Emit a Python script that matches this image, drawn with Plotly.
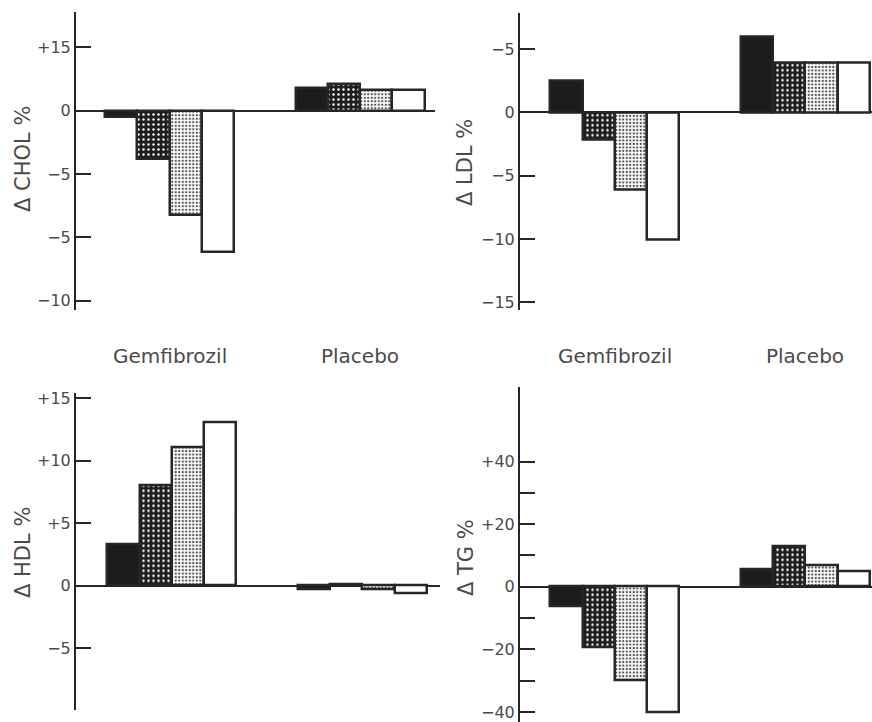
import plotly.graph_objects as go

W, H = 872, 722

# ---------------- data ----------------
groups = ["Gemfibrozil", "Placebo"]
series = ["Period 1", "Period 2", "Period 3", "Period 4"]

chol_gem = [-0.5, -3.8, -8.2, -11.2]
chol_pla = [1.8, 2.1, 1.6, 1.6]
ldl_gem = [2.5, -2.2, -6.1, -10.1]
ldl_pla = [6.0, 3.9, 3.9, 3.9]
hdl_gem = [3.3, 8.0, 11.1, 13.1]
hdl_pla = [-0.3, 0.1, -0.3, -0.6]
tg_gem = [-6.4, -19.5, -30.0, -40.0]
tg_pla = [5.6, 12.8, 6.9, 4.8]

chol_tickvals = [5, 0, -5, -10, -15]
chol_ticktext = ["+15", "0", "−5", "−5", "−10"]
ldl_tickvals = [5, 0, -5, -10, -15]
ldl_ticktext = ["−5", "0", "−5", "−10", "−15"]
hdl_tickvals = [15, 10, 5, 0, -5]
hdl_ticktext = ["+15", "+10", "+5", "0", "−5"]
tg_tickvals = [-40, -30, -20, -10, 0, 10, 20, 30, 40]
tg_ticktext = ["−40", "", "−20", "", "0", "", "+20", "", "+40"]

titles = ["Δ CHOL %", "Δ LDL %", "Δ HDL %", "Δ TG %"]

# ---------------- styling / geometry ----------------
LINE = "#262626"
TEXT = "#4a4a4a"
UNIT = 32.2          # px per bar
GROUP_OFFSET = 5.92  # placebo group start, in bar units


def fx(px):
    return px / W


def fy(py):
    return 1 - py / H


styles = [
    dict(color="#1c1c1c", pattern=None),
    dict(color="#1c1c1c", pattern=dict(shape=".", bgcolor="#1e1e1e", fgcolor="#ffffff",
                                        size=5, solidity=0.18, fillmode="replace")),
    dict(color="#ffffff", pattern=dict(shape=".", bgcolor="#ffffff", fgcolor="#505050",
                                        size=3.5, solidity=0.35, fillmode="replace")),
    dict(color="#ffffff", pattern=None),
]

# pixel geometry per panel
panels = [
    dict(gem=chol_gem, pla=chol_pla, tv=chol_tickvals, tt=chol_ticktext, title=titles[0],
         ax=76, rx=435, c0=121.3, ty=12, by=310, zy=110.7, ppu=12.66, tx=23, tcy=159),
    dict(gem=ldl_gem, pla=ldl_pla, tv=ldl_tickvals, tt=ldl_ticktext, title=titles[1],
         ax=520, rx=872, c0=566.5, ty=12.7, by=310, zy=112.3, ppu=12.66, tx=465, tcy=163),
    dict(gem=hdl_gem, pla=hdl_pla, tv=hdl_tickvals, tt=hdl_ticktext, title=titles[2],
         ax=76, rx=440, c0=123.5, ty=393.3, by=710, zy=585.7, ppu=12.5, tx=23, tcy=553),
    dict(gem=tg_gem, pla=tg_pla, tv=tg_tickvals, tt=tg_ticktext, title=titles[3],
         ax=520, rx=872, c0=566.5, ty=387.3, by=722, zy=586.7, ppu=3.13, tx=466, tcy=557),
]

fig = go.Figure()
annotations = []

for p_i, p in enumerate(panels):
    n = "" if p_i == 0 else str(p_i + 1)
    xa, ya = "x" + n, "y" + n
    for s_i, name in enumerate(series):
        st = styles[s_i]
        marker = dict(color=st["color"], line=dict(color=LINE, width=2.5))
        if st["pattern"] is not None:
            marker["pattern"] = st["pattern"]
        fig.add_trace(go.Bar(
            x=[s_i, GROUP_OFFSET + s_i],
            y=[p["gem"][s_i], p["pla"][s_i]],
            width=[1, 1],
            name=name, marker=marker, showlegend=False,
            xaxis=xa, yaxis=ya, hovertext=groups,
        ))
    xr = [(p["ax"] - p["c0"]) / UNIT, (p["rx"] - p["c0"]) / UNIT]
    yr = [-(p["by"] - p["zy"]) / p["ppu"], (p["zy"] - p["ty"]) / p["ppu"]]
    fig.layout["xaxis" + n] = dict(
        domain=[fx(p["ax"]), min(1, fx(p["rx"]))], range=xr, anchor=ya, automargin=False,
        showline=False, showgrid=False, zeroline=False, showticklabels=False, ticks="",
        fixedrange=True,
    )
    fig.layout["yaxis" + n] = dict(
        domain=[max(0, fy(p["by"])), fy(p["ty"])], range=yr, anchor=xa, automargin=False,
        showline=True, linecolor=LINE, linewidth=2,
        showgrid=False, zeroline=True, zerolinecolor=LINE, zerolinewidth=1.6,
        ticks="inside", ticklen=15, tickwidth=2, tickcolor=LINE,
        tickmode="array", tickvals=p["tv"], ticktext=p["tt"],
        tickfont=dict(family="DejaVu Sans", size=16, color=TEXT),
        fixedrange=True,
    )
    annotations.append(dict(
        text=p["title"], textangle=-90, showarrow=False,
        xref="paper", yref="paper", x=fx(p["tx"]), y=fy(p["tcy"]),
        xanchor="center", yanchor="middle",
        font=dict(family="DejaVu Sans", size=21, color=TEXT),
    ))
    if p_i < 2:
        for g_i, g in enumerate(groups):
            annotations.append(dict(
                text=g, showarrow=False,
                xref=xa, yref="paper", x=g_i * GROUP_OFFSET + 1.5, y=fy(356),
                xanchor="center", yanchor="middle",
                font=dict(family="DejaVu Sans", size=20, color=TEXT),
            ))

fig.update_layout(
    width=W, height=H, autosize=False,
    margin=dict(l=0, r=0, t=0, b=0, pad=0),
    paper_bgcolor="white", plot_bgcolor="white",
    barmode="overlay", bargap=0,
    annotations=annotations,
)

fig.write_html(
    "out.html",
    config={"displayModeBar": False},
    post_script="document.body.style.margin='0';document.body.style.overflow='hidden';",
)
